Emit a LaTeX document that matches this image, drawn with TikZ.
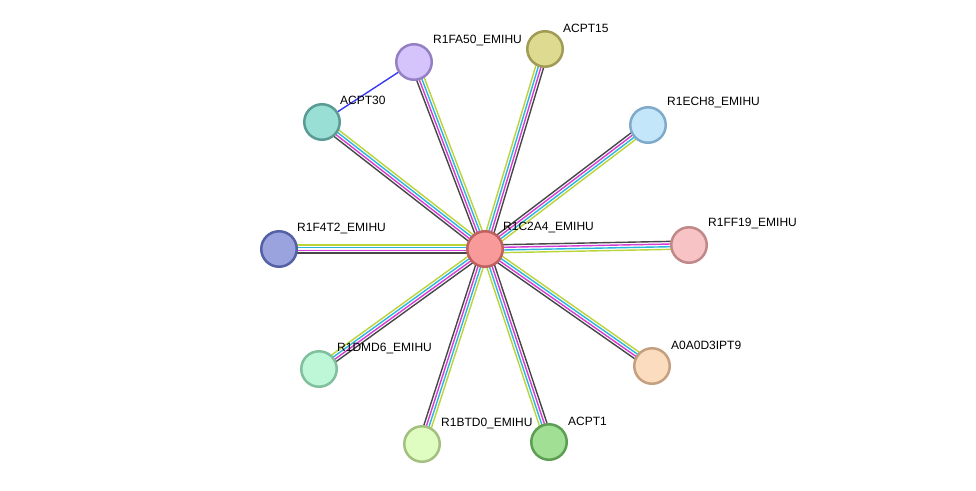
\documentclass[tikz,border=0pt]{standalone}
\usepackage{fontspec}
\setmainfont{Liberation Sans}
\usetikzlibrary{calc}
\definecolor{edark}{HTML}{474747}
\definecolor{emag}{HTML}{D63CD6}
\definecolor{ecyan}{HTML}{2CB6DC}
\definecolor{eyel}{HTML}{BAD43A}
\definecolor{eblue}{HTML}{3A3AEE}
\tikzset{
  prot/.style={circle, minimum size=35.5pt, inner sep=0pt, line width=2.5pt},
  lbl/.style={anchor=west, inner sep=0pt, font=\fontsize{12}{14}\selectfont, text=black},
}
\newcommand{\strEdge}[3]{%
  \foreach \o/\c in {4/edark,1.35/emag,-1.35/ecyan,-4/eyel}{%
    \pgfmathsetmacro\dd{#3*\o}%
    \draw[\c, line width=1.4pt] ($(#1)!\dd pt!90:(#2)$) -- ($(#2)!\dd pt!-90:(#1)$);
  }}
\begin{document}
\begin{tikzpicture}[x=1pt,y=-1pt]
\useasboundingbox[fill=white] (0,0) rectangle (976,490);
% node coordinates
\coordinate (c)  at (485,249);
\coordinate (fa) at (414,62);
\coordinate (a15) at (545,49);
\coordinate (a30) at (322,122);
\coordinate (ech) at (648,125);
\coordinate (f4t) at (279,249);
\coordinate (ff19) at (689,245);
\coordinate (dmd) at (319,369);
\coordinate (ipt) at (652,366);
\coordinate (btd) at (422,444);
\coordinate (a1) at (549,442);
% edges
\draw[eblue, line width=1.4pt] (a30) -- (fa);
\strEdge{c}{fa}{1}
\strEdge{c}{a15}{-1}
\strEdge{c}{a30}{1}
\strEdge{c}{ech}{1}
\strEdge{c}{ff19}{1}
\strEdge{c}{f4t}{1}
\strEdge{c}{dmd}{1}
\strEdge{c}{ipt}{-1}
\strEdge{c}{btd}{-1}
\strEdge{c}{a1}{1}
% nodes
\node[prot, fill={rgb,255:red,249;green,154;blue,154}, draw={rgb,255:red,192;green,96;blue,95}] (nc) at (c) {};
\node[prot, fill={rgb,255:red,212;green,196;blue,251}, draw={rgb,255:red,149;green,128;blue,196}] (nfa) at (fa) {};
\node[prot, fill={rgb,255:red,222;green,218;blue,144}, draw={rgb,255:red,160;green,156;blue,85}] (na15) at (a15) {};
\node[prot, fill={rgb,255:red,154;green,223;blue,214}, draw={rgb,255:red,90;green,156;blue,148}] (na30) at (a30) {};
\node[prot, fill={rgb,255:red,196;green,230;blue,250}, draw={rgb,255:red,128;green,170;blue,202}] (nech) at (ech) {};
\node[prot, fill={rgb,255:red,155;green,163;blue,223}, draw={rgb,255:red,85;green,97;blue,165}] (nf4t) at (f4t) {};
\node[prot, fill={rgb,255:red,248;green,195;blue,196}, draw={rgb,255:red,192;green,136;blue,137}] (nff19) at (ff19) {};
\node[prot, fill={rgb,255:red,190;green,247;blue,216}, draw={rgb,255:red,128;green,192;blue,156}] (ndmd) at (dmd) {};
\node[prot, fill={rgb,255:red,252;green,220;blue,190}, draw={rgb,255:red,196;green,160;blue,128}] (nipt) at (ipt) {};
\node[prot, fill={rgb,255:red,223;green,253;blue,192}, draw={rgb,255:red,163;green,192;blue,128}] (nbtd) at (btd) {};
\node[prot, fill={rgb,255:red,160;green,223;blue,148}, draw={rgb,255:red,92;green,158;blue,82}] (na1) at (a1) {};
% labels
\node[lbl] (lc) at (503,227) {R1C2A4\_EMIHU};
\node[lbl] (lfa) at (433,41) {R1FA50\_EMIHU};
\node[lbl] (la15) at (563,28) {ACPT15};
\node[lbl] (la30) at (340,100) {ACPT30};
\node[lbl] (lech) at (667,103) {R1ECH8\_EMIHU};
\node[lbl] (lf4t) at (297,228) {R1F4T2\_EMIHU};
\node[lbl] (lff19) at (708,223) {R1FF19\_EMIHU};
\node[lbl] (ldmd) at (337,348) {R1DMD6\_EMIHU};
\node[lbl] (lipt) at (671,345) {A0A0D3IPT9};
\node[lbl] (lbtd) at (441,423) {R1BTD0\_EMIHU};
\node[lbl] (la1) at (568,421) {ACPT1};
\end{tikzpicture}
\end{document}
